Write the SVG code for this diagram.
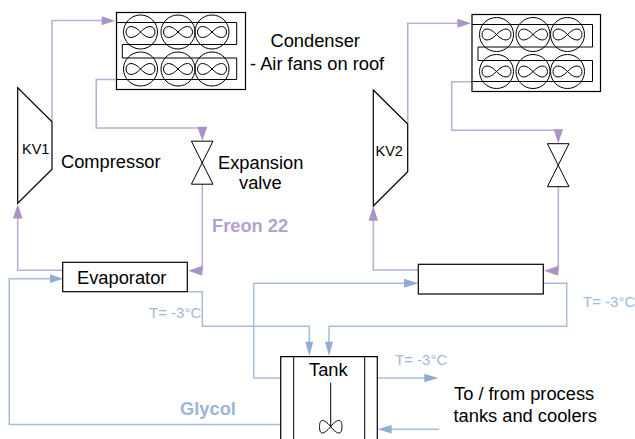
<svg xmlns="http://www.w3.org/2000/svg" width="635" height="439" viewBox="0 0 635 439">
<style>
text{font-family:"Liberation Sans",Arial,sans-serif;fill:#000}
.eq{fill:#fff;stroke:#000;stroke-width:1.2}
.ln{fill:none;stroke:#000;stroke-width:1}
.fr{fill:none;stroke:#bdaed6;stroke-width:1.6}
.gl{fill:none;stroke:#a6bedc;stroke-width:1.5}
.ah1{fill:#a995c4}
.ah2{fill:#92acd2}
.t{font-size:18.300px}
.tc{font-size:15px;fill:#a3b9da}
.k{font-size:14.500px}
.b{font-size:18.300px;font-weight:bold}
</style>
<defs>
<g id="fan"><circle r="17" class="ln"/><path class="ln" d="M0 0C-3 3 -6 5.500 -9.500 5.500C-12.500 5.500 -14.500 3 -14.500 0C-14.500 -3 -12.500 -5.500 -9.500 -5.500C-6 -5.500 -3 -3 0 0C3 3 6 5.500 9.500 5.500C12.500 5.500 14.500 3 14.500 0C14.500 -3 12.500 -5.500 9.500 -5.500C6 -5.500 3 -3 0 0Z"/></g>
<g id="valve"><path class="ln" d="M-10.800 -21.500H10.800L-10.800 21.500H10.800Z"/></g>
</defs>
<g id="connectors">
<path class="fr" d="M52 122V20.500H104"/>
<path class="fr" d="M116 79.500H96.300V128H202.300"/>
<path class="fr" d="M202.300 184V270.500H192"/>
<path class="fr" d="M62.500 270.300H17.700V215"/>
<path class="fr" d="M407.700 124V23.300H460"/>
<path class="fr" d="M472 81.700H451.700V130.300H558.300"/>
<path class="fr" d="M558.300 186.700V270.500H548"/>
<path class="fr" d="M418.300 270H373.300V215"/>
<path class="gl" d="M54 278.700H9.300V424.500H280.700"/>
<path class="gl" d="M187.300 291.700H202.300V326.300H309.300V345"/>
<path class="gl" d="M280.700 378H253.700V283.300H407"/>
<path class="gl" d="M543.300 283.300H566.700V326.300H329V345"/>
<path class="gl" d="M377.300 378H426"/>
<path class="gl" d="M439.300 429.300H388"/>
<polygon class="ah1" points="115,20.700 101.700,16.200 101.700,25.200"/>
<polygon class="ah1" points="202.300,140.700 197.300,126.700 207.300,126.700"/>
<polygon class="ah1" points="188.300,270.700 202.300,265.700 202.300,275.700"/>
<polygon class="ah1" points="17.700,204 13,218.500 22.500,218.500"/>
<polygon class="ah1" points="471,23.300 457.300,18.800 457.300,27.800"/>
<polygon class="ah1" points="558.300,143.300 553.600,129.300 563,129.300"/>
<polygon class="ah1" points="544,270.700 558.300,265.700 558.300,275.700"/>
<polygon class="ah1" points="373.300,206 368.600,220.700 378,220.700"/>
<polygon class="ah2" points="63.300,278.700 50,274.300 50,283.100"/>
<polygon class="ah2" points="418.300,283.300 404,278.800 404,287.800"/>
<polygon class="ah2" points="309.300,356 305.300,341.700 313.300,341.700"/>
<polygon class="ah2" points="329,356 325,341.700 333,341.700"/>
<polygon class="ah2" points="438.300,378 424.300,373.700 424.300,382.300"/>
<polygon class="ah2" points="377.700,429.300 391.700,425 391.700,433.600"/>
</g>
<g id="condenser1">
<rect class="eq" x="116.500" y="12.500" width="129" height="77"/>
<path class="ln" d="M116 22.500H236.700V44.500H122.300V58H236.700V79.500H116"/>
<use href="#fan" x="140.500" y="32"/><use href="#fan" x="178" y="32"/><use href="#fan" x="212" y="32"/>
<use href="#fan" x="140.500" y="69"/><use href="#fan" x="178" y="69"/><use href="#fan" x="212" y="69"/>
<text class="t" x="270.500" y="47">Condenser</text>
<text class="t" x="250" y="70">- Air fans on roof</text>
</g>
<g id="condenser2">
<rect class="eq" x="472" y="14.500" width="128.500" height="77"/>
<path class="ln" d="M472 24.500H592.500V47H478V60.500H592.500V81.500H472"/>
<use href="#fan" x="496.500" y="34.500"/><use href="#fan" x="533" y="34.500"/><use href="#fan" x="567.500" y="34.500"/>
<use href="#fan" x="496.500" y="71.500"/><use href="#fan" x="533" y="71.500"/><use href="#fan" x="567.500" y="71.500"/>
</g>
<g id="kv1">
<polygon class="eq" points="17.700,87.700 52,121.700 52,169.300 17.700,203.300"/>
<text class="k" x="22" y="154">KV1</text>
<text class="t" x="61" y="168">Compressor</text>
</g>
<g id="kv2">
<polygon class="eq" points="373.300,90 407.700,124 407.700,171.700 373.300,206"/>
<text class="k" x="375.500" y="156">KV2</text>
</g>
<g id="valve1"><use href="#valve" x="202.200" y="162.700"/>
<text class="t" x="218" y="169">Expansion</text>
<text class="t" x="239" y="189">valve</text></g>
<g id="valve2"><use href="#valve" x="558.200" y="165.200"/></g>
<g id="evaporator"><rect class="eq" x="62.700" y="262.300" width="124.600" height="29.400"/>
<text class="t" x="77" y="284">Evaporator</text></g>
<g id="evaporator2"><rect class="eq" x="418.300" y="264.300" width="125" height="29.700"/></g>
<g id="tank">
<path class="eq" d="M280.700 440V356.700H377.300V440"/>
<path class="ln" d="M293.700 357V439M364.700 357V439"/>
<text class="t" x="309" y="376">Tank</text>
<path class="ln" d="M330.700 382.700V426"/>
<path class="ln" d="M330.700 426.700C327 422 324 420.500 322.500 420.500C320 420.500 319.500 424 319.500 426.700C319.500 429.500 320 433 322.500 433C324 433 327 431 330.700 426.700C334 422 337 420.500 339 420.500C341.500 420.500 342 424 342 426.700C342 429.500 341.500 433 339 433C337 433 334 431 330.700 426.700Z"/>
</g>
<g id="labels">
<text class="b" x="212" y="232" style="fill:#b3a2cc">Freon 22</text>
<text class="b" x="180" y="415" style="fill:#9db5d8">Glycol</text>
<text class="tc" x="149" y="318">T= -3°C</text>
<text class="tc" x="583" y="306.500">T= -3°C</text>
<text class="tc" x="395" y="365">T= -3°C</text>
<text class="t" x="454" y="400">To / from process</text>
<text class="t" x="453.500" y="421.500">tanks and coolers</text>
</g>
</svg>
